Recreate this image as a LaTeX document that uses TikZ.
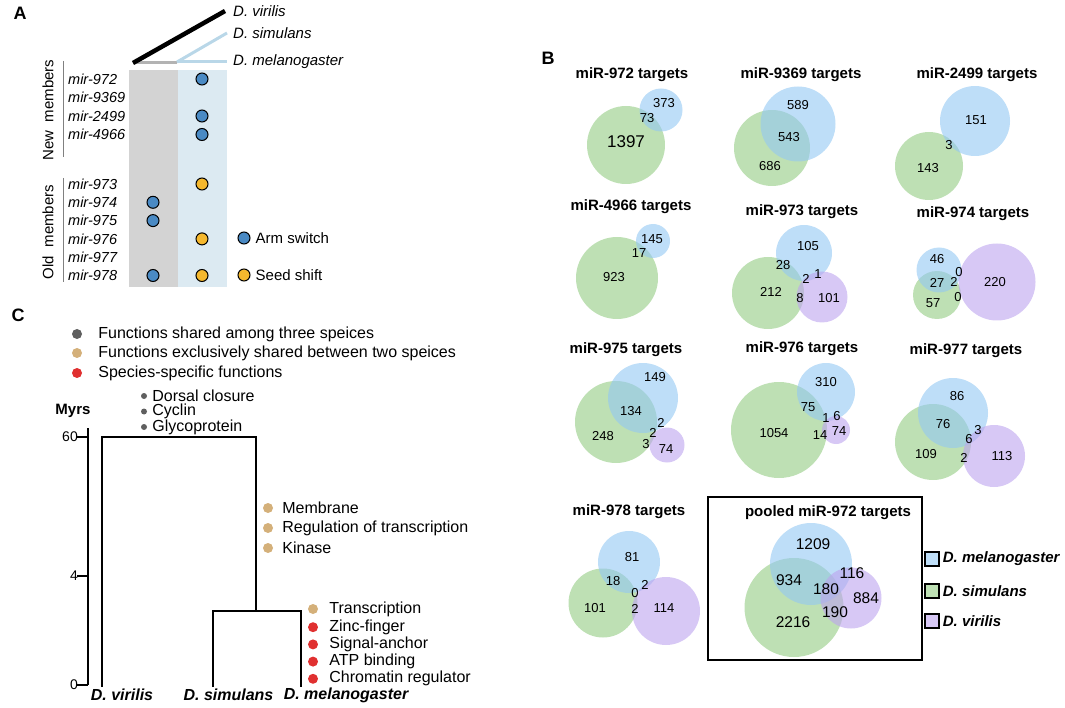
\documentclass[tikz,border=0pt]{standalone}
\usepackage{fontspec}
\setmainfont{Liberation Sans}
\usetikzlibrary{positioning}
\definecolor{melblue}{RGB}{147,200,243}
\definecolor{simgreen}{RGB}{147,203,130}
\definecolor{virpurple}{RGB}{188,163,238}
\definecolor{armblue}{RGB}{74,138,196}
\definecolor{seedyellow}{RGB}{245,184,46}
\definecolor{colgray}{RGB}{211,211,211}
\definecolor{colblue}{RGB}{220,234,242}
\definecolor{linblue}{RGB}{185,215,232}
\definecolor{fungray}{RGB}{95,95,95}
\definecolor{funtan}{RGB}{212,176,122}
\definecolor{funred}{RGB}{224,48,48}
\newcommand{\fs}[1]{\fontsize{#1}{#1}\selectfont}

\tikzset{
  panel/.style={font=\bfseries\fs{18}, inner sep=0pt},
  lbl/.style={font=\fs{15}, inner sep=0pt},
  sp/.style={font=\itshape\fs{15}, inner sep=0pt, anchor=west},
  mir/.style={font=\itshape\fs{14.5}, inner sep=0pt, anchor=west},
  ttl/.style={font=\bfseries\fs{15}, inner sep=0pt},
  num/.style={font=\fs{13}, inner sep=0pt},
  bignum/.style={font=\fs{15.5}, inner sep=0pt},
  mel/.style={fill=melblue, fill opacity=0.6},
  sim/.style={fill=simgreen, fill opacity=0.6},
  vir/.style={fill=virpurple, fill opacity=0.6},
  armdot/.style={circle, draw=black, line width=1pt, fill=armblue, minimum size=12pt, inner sep=0pt},
  seeddot/.style={armdot, fill=seedyellow},
  fun/.style={font=\fs{16}, inner sep=0pt, anchor=west},
  fdot/.style={circle, fill=#1, minimum size=10pt, inner sep=0pt},
  gdot/.style={circle, fill=fungray, minimum size=6pt, inner sep=0pt},
  tree/.style={line width=1.3pt},
  leaf/.style={font=\bfseries\itshape\fs{16}, inner sep=0pt}
}

\begin{document}
\begin{tikzpicture}[x=1pt,y=-1pt]
\useasboundingbox (0,0) rectangle (1065,708);

% ---------------- A ----------------
\node[panel] (labA) at (20,13) {A};
\fill[colgray] (129,70) rectangle (178,287);
\fill[colblue] (178,70) rectangle (227,287);
\draw[line width=3pt, colgray!85!black] (133,63) -- (177,63);
\draw[line width=3pt, linblue] (177,62) -- (227,33);
\draw[line width=3pt, linblue] (177,62) -- (227,62);
\draw[line width=4.5pt, black] (133,63) -- (225,11);
\node[sp] (spVir) at (233,11) {D. virilis};
\node[sp] (spSim) at (233,33) {D. simulans};
\node[sp] (spMel) at (233,62) {D. melanogaster};

\foreach \name [count=\i from 0] in {972,9369,2499,4966}
  \node[mir] (m\name) at (68,{79+18.5*\i}) {mir-\name};
\foreach \name [count=\i from 0] in {973,974,975,976,977,978}
  \node[mir] (m\name) at (68,{184+18.3*\i}) {mir-\name};
\draw[line width=1pt, gray] (63,61) -- (63,157);
\draw[line width=1pt, gray] (63,178) -- (63,282);
\node[lbl, rotate=90] (newm) at (48,110) {New\ \ members};
\node[lbl, rotate=90] (oldm) at (48,232) {Old\ \ members};

\coordinate (colL) at (153,0);
\coordinate (colR) at (202,0);
\foreach \r in {972,2499,4966}
  \node[armdot] at (m\r.west -| colR) {};
\foreach \r in {973,976,978}
  \node[seeddot] at (m\r.west -| colR) {};
\foreach \r in {974,975,978}
  \node[armdot] at (m\r.west -| colL) {};

\node[armdot] (legArm) at (244,238) {};
\node[lbl, right=5pt of legArm] {Arm switch};
\node[seeddot] (legSeed) at (244,275) {};
\node[lbl, right=5pt of legSeed] {Seed shift};

% ---------------- B ----------------
\node[panel] (labB) at (548,58) {B};

% row 1
\node[ttl] (t972) at (632,75) {miR-972 targets};
\fill[sim] (626,145) circle (39);
\fill[mel] (661,110) circle (21.5);
\node[num] at (664,103) {373};
\node[num] at (647,118) {73};
\node[font=\fs{17}, inner sep=0pt] at (626,142) {1397};

\node[ttl] (t9369) at (801,75) {miR-9369 targets};
\fill[sim] (772,148) circle (38);
\fill[mel] (798,124) circle (37.5);
\node[num] at (798,105) {589};
\node[num] at (789,137) {543};
\node[num] at (770,166) {686};

\node[ttl] (t2499) at (977,75) {miR-2499 targets};
\fill[sim] (929,166) circle (34);
\fill[mel] (975,121) circle (35);
\node[num] at (976,120) {151};
\node[num] at (949,145) {3};
\node[num] at (928,168) {143};

% row 2
\node[ttl] (t4966) at (631,207) {miR-4966 targets};
\fill[sim] (617,278) circle (41);
\fill[mel] (653,241) circle (17);
\node[num] at (652,239) {145};
\node[num] at (639,253) {17};
\node[num] at (614,277) {923};

\node[ttl] (t973) at (802,212) {miR-973 targets};
\fill[sim] (768,293) circle (36);
\fill[mel] (804,253) circle (28);
\fill[vir] (822,297) circle (25.5);
\node[num] at (808,246) {105};
\node[num] at (783,265) {28};
\node[num] at (818,274) {1};
\node[num] at (806,279) {2};
\node[num] at (771,292) {212};
\node[num] at (800,298) {8};
\node[num] at (829,298) {101};

\node[ttl] (t974) at (973,214) {miR-974 targets};
\fill[sim] (937,295) circle (24);
\fill[mel] (939,270) circle (22.5);
\fill[vir] (997,282) circle (38.5);
\node[num] at (937,259) {46};
\node[num] at (959,272) {0};
\node[num] at (937,283) {27};
\node[num] at (954,282) {2};
\node[num] at (958,297) {0};
\node[num] at (933,303) {57};
\node[num] at (995,282) {220};

% row 3
\node[ttl] (t975) at (626,350) {miR-975 targets};
\fill[sim] (616,422) circle (41);
\fill[mel] (643,398) circle (35);
\fill[vir] (667,445) circle (17.5);
\node[num] at (655,377) {149};
\node[num] at (631,411) {134};
\node[num] at (661,423) {2};
\node[num] at (653,433) {2};
\node[num] at (603,436) {248};
\node[num] at (646,444) {3};
\node[num] at (666,449) {74};

\node[ttl] (t976) at (802,349) {miR-976 targets};
\fill[sim] (779,430) circle (48);
\fill[mel] (826,392) circle (29);
\fill[vir] (836,430) circle (14);
\node[num] at (826,382) {310};
\node[num] at (808,407) {75};
\node[num] at (826,418) {1};
\node[num] at (837,416) {6};
\node[num] at (774,433) {1054};
\node[num] at (820,435) {14};
\node[num] at (839,431) {74};

\node[ttl] (t977) at (966,351) {miR-977 targets};
\fill[sim] (933,442) circle (38);
\fill[mel] (953,413) circle (35);
\fill[vir] (994,456) circle (31);
\node[num] at (957,396) {86};
\node[num] at (943,424) {76};
\node[num] at (978,430) {3};
\node[num] at (969,439) {6};
\node[num] at (926,454) {109};
\node[num] at (964,458) {2};
\node[num] at (1002,456) {113};

% row 4
\node[ttl] (t978) at (629,512) {miR-978 targets};
\fill[sim] (603,603) circle (34.5);
\fill[mel] (629,562) circle (31);
\fill[vir] (666,611) circle (34);
\node[num] at (632,557) {81};
\node[num] at (613,581) {18};
\node[num] at (645,585) {2};
\node[num] at (635,593) {0};
\node[num] at (595,608) {101};
\node[num] at (635,609) {2};
\node[num] at (664,608) {114};

\draw[line width=1.3pt] (708,497) rectangle (922,660);
\node[ttl] (tpool) at (828,513) {pooled miR-972 targets};
\fill[sim] (794,607.5) circle (49.5);
\fill[mel] (811,564) circle (41);
\fill[vir] (851,598) circle (30.5);
\node[bignum] at (813,544) {1209};
\node[bignum] at (789,580) {934};
\node[bignum] at (826,589) {180};
\node[bignum] at (852,573) {116};
\node[bignum] at (866,598) {884};
\node[bignum] at (835,612) {190};
\node[bignum] at (793,622) {2216};

% legend
\foreach \col/\sp/\yy in {melblue/melanogaster/559, simgreen/simulans/591, virpurple/virilis/621}{
  \node[draw=black, line width=1.3pt, fill=\col!60, minimum size=14pt, inner sep=0pt] (sq\sp) at (932,\yy) {};
  \node[font=\bfseries\itshape\fs{15}, inner sep=0pt, right=3pt of sq\sp] {D. \sp};
}

% ---------------- C ----------------
\node[panel] (labC) at (18,315) {C};
\node[fdot=fungray] (k1) at (77,334) {};
\node[fun, right=16pt of k1] {Functions shared among three speices};
\node[fdot=funtan] (k2) at (77,353) {};
\node[fun, right=16pt of k2] {Functions exclusively shared between two speices};
\node[fdot=funred] (k3) at (77,373) {};
\node[fun, right=16pt of k3] {Species-specific functions};

% time axis
\node[font=\bfseries\fs{15}, inner sep=0pt] (myrs) at (73,411) {Myrs};
\draw[tree] (88,428) -- (88,685);
\foreach \t/\yy in {60/437, 4/576, 0/685}{
  \draw[tree] (77,\yy) -- (88,\yy);
  \node[font=\fs{14}, inner sep=0pt, anchor=east] at (78,\yy) {\t};
}

% tree
\coordinate (root) at (179,437);
\coordinate (inner) at (256,611);
\coordinate (lvir) at (102,687);
\coordinate (lsim) at (213,687);
\coordinate (lmel) at (301,687);
\draw[tree] (lvir) -- (lvir |- root) -- (inner |- root) -- (inner);
\draw[tree] (lsim) -- (lsim |- inner) -- (lmel |- inner) -- (lmel);
\node[leaf] at (122,695) {D. virilis};
\node[leaf] at (228.5,695) {D. simulans};
\node[leaf] at (346,695) {D. melanogaster};

% function labels
\foreach \f [count=\i from 0] in {Dorsal closure, Cyclin, Glycoprotein}{
  \node[gdot] (g\i) at (144,{396+15.5*\i}) {};
  \node[fun, right=5pt of g\i] {\f};
}
\foreach \f [count=\i from 0] in {Membrane, Regulation of transcription, Kinase}{
  \node[fdot=funtan] (s\i) at (268,{508+20*\i}) {};
  \node[fun, right=9pt of s\i] {\f};
}
\node[fdot=funtan] (r0) at (313,609) {};
\node[fun, right=11pt of r0] {Transcription};
\foreach \f [count=\i from 1] in {Zinc-finger, Signal-anchor, ATP binding, Chromatin regulator}{
  \node[fdot=funred] (r\i) at (313,{610+17.2*\i}) {};
  \node[fun, right=11pt of r\i] {\f};
}
\end{tikzpicture}
\end{document}
